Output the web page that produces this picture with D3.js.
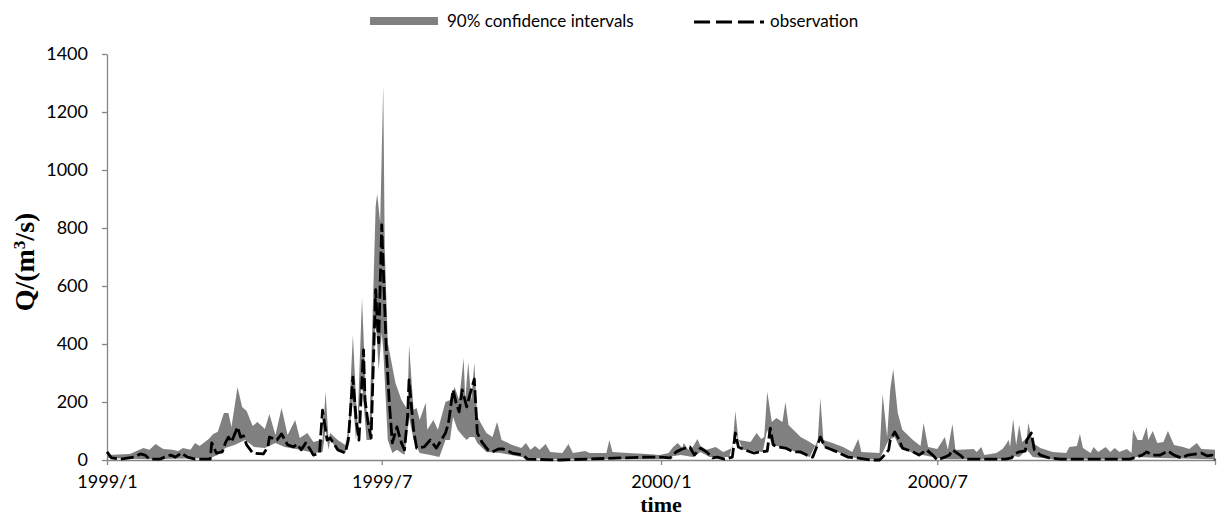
<!DOCTYPE html>
<html><head><meta charset="utf-8">
<script src="https://cdn.jsdelivr.net/npm/d3@7"></script>
<style>body{margin:0;background:#fff} svg{display:block}</style>
</head><body><svg id="chart" width="1219" height="520"></svg>
<script>
// ---- data (day offset from 1999-01-01, discharge m3/s) ----
const startDate = "1999-01-01";
const endDate = "2000-12-31";
const xTickDates = ["1999-01-01","1999-07-01","2000-01-01","2000-07-01","2000-12-31"];
const xTickLabels = ["1999/1","1999/7","2000/1","2000/7",""];
const yTickValues = [0,200,400,600,800,1000,1200,1400];
const legendLabels = ["90% confidence intervals","observation"];

const bandUpper = [[0,17],[15,21],[24,41],[28,35],[32,55],[37,38],[43,35],[47,31],[50,41],[55,35],[58,59],[61,48],[67,72],[70,90],[73,97],[77,162],[80,162],[82,114],[86,252],[89,183],[92,169],[96,117],[99,131],[102,117],[104,107],[107,159],[111,86],[115,179],[119,86],[124,138],[127,76],[132,93],[136,62],[139,66],[142,69],[144,235],[146,69],[147,93],
[152,69],[157,52],[159,104],[162,431],[165,114],[168,559],[171,173],[173,128],[177,873],[178,918],[180,818],[182,1294],[183,725],[185,404],[190,266],[194,207],[198,173],[199,397],[202,173],[204,179],[206,138],[210,197],[211,104],[215,138],[218,104],[223,200],[226,207],[229,252],[232,207],[235,352],[236,207],[238,338],[240,207],[242,335],[244,148],[250,93],[254,79],[257,131],[260,69],[267,52],[273,41],[276,59],[279,35],[282,48],[285,35],[289,55],[292,28],[300,24],[304,55],[307,24],[315,31],[318,24],[329,24],[331,69],[333,28],[343,24],[356,21],[364,17],[370,24],[373,45],[376,59],[379,41],[380,59],[383,35],[386,45],[389,72],[391,48],
[395,35],[401,45],[406,28],[412,41],[414,169],[416,69],[424,62],[428,93],[431,72],[433,79],[435,235],[438,131],[441,145],[445,131],[447,200],[449,121],[457,79],[463,62],[468,45],[470,214],[472,69],[478,59],[485,45],[491,28],[495,72],[497,28],[509,24],[511,228],[514,79],[516,242],[518,314],[521,162],[524,104],[531,69],[536,48],[538,128],[541,45],[547,38],[552,79],[554,35],[557,124],[559,35],[562,35],
[571,38],[573,28],[576,45],[578,17],[586,24],[590,38],[592,52],[594,69],[595,45],[597,141],[599,52],[601,121],[603,62],[606,76],[607,128],[610,59],[615,41],[623,28],[632,24],[634,45],[639,48],[641,90],[643,41],[648,24],[650,45],[653,28],[658,45],[661,28],[664,41],[667,28],[672,38],[675,24],[676,104],[679,69],[682,69],[685,114],[686,69],[689,100],[692,59],[696,62],[699,100],[703,52],[709,45],[713,38],[718,59],[721,38],[730,35]];

const bandLower = [[0,7],[28,3],[68,7],[73,17],[78,41],[84,52],[91,69],[97,45],[104,41],[111,59],[117,45],[127,35],[137,24],[142,28],[144,104],[146,35],[147,69],[152,35],[157,24],[159,69],[162,207],[164,69],[168,266],[171,69],[174,69],[177,493],[179,310],[181,438],[182,380],[185,69],[188,24],[191,35],[196,17],[199,148],[202,69],[206,24],[213,17],[219,10],[223,69],[226,69],[228,148],[231,104],[235,79],[237,69],[239,79],[242,79],[244,59],[250,28],[259,24],[277,7],[298,3],[364,3],[369,10],[378,17],[386,10],[391,28],[397,10],[410,10],[414,93],[419,35],[432,28],[435,104],[438,52],[448,41],[455,24],[463,10],[469,76],[473,41],[483,24],[489,10],[501,3],[509,3],[515,69],[519,79],[522,45],[531,24],[544,10],[553,3],[562,3],[595,3],[597,14],[601,10],[606,35],[610,10],[623,3],[676,3],[678,10],[694,7],[730,3]];

const observation = [[0,28],[3,7],[9,3],[18,10],[22,21],[25,17],[28,3],[35,3],[38,10],[42,17],[45,10],[49,24],[53,10],[58,3],[68,3],[69,59],[72,24],[76,28],[78,59],[80,79],[82,62],[86,114],[88,79],[90,83],[92,52],[96,24],[103,21],[106,45],[107,79],[112,69],[115,90],[119,52],[123,45],[125,55],[128,35],[131,59],[134,35],[136,17],[140,24],[142,172],[145,69],[147,76],[152,35],[157,24],[159,69],[162,286],[164,148],[166,69],[169,380],[170,207],[172,128],[174,76],[177,587],[178,483],[179,404],[181,811],[182,666],[184,380],[186,197],[188,59],[191,114],[194,59],[196,35],[198,148],[199,276],[202,104],[204,41],[209,45],[213,69],[217,41],[223,93],[225,128],[228,242],[230,197],[232,166],[234,242],[237,183],[239,224],[242,279],[243,183],[244,93],[247,62],[251,35],[254,28],[258,38],[261,38],[267,24],[274,17],[277,3],[298,0],[338,7],[356,10],[364,10],[371,7],[375,28],[379,38],[384,45],[387,17],[391,41],[395,28],[399,7],[402,10],[407,3],[412,10],[414,93],[416,45],[420,35],[426,24],[431,28],[435,31],[437,110],[439,52],[442,45],[447,41],[452,28],[457,28],[461,17],[465,10],[470,79],[473,45],[481,28],[488,10],[494,7],[503,0],[509,0],[511,10],[515,35],[516,69],[519,97],[522,69],[524,41],[531,28],[535,17],[540,35],[544,17],[547,0],[552,10],[555,17],[557,35],[562,17],[565,3],[592,3],[596,7],[598,21],[601,28],[605,31],[606,69],[609,93],[611,35],[615,17],[621,7],[628,3],[654,3],[674,3],[678,10],[682,17],[685,28],[689,17],[694,17],[699,31],[703,17],[708,7],[712,17],[718,21],[721,24],[725,14],[728,17],[730,0]];

// ---- drawing ----
const svg = d3.select("#chart");
const parse = d3.timeParse("%Y-%m-%d");
const t0 = parse(startDate);
const toDate = d => d3.timeDay.offset(t0, d);

const x = d3.scaleTime().domain([t0, parse(endDate)]).range([107, 1215]);
const y = d3.scaleLinear().domain([0, 1400]).range([460, 54]);

const axisColor = "#868686";
const labelFont = "Lato, 'Liberation Sans', sans-serif";
const serif = "'Liberation Serif', 'Times New Roman', serif";

// Y axis
const yAxis = svg.append("g").attr("transform", "translate(107,0)")
  .call(d3.axisLeft(y).tickValues(yTickValues).tickFormat(d3.format("d")).tickSize(5).tickSizeOuter(0).tickPadding(14));
yAxis.select(".domain").attr("stroke", axisColor).attr("stroke-width", 1.3);
yAxis.selectAll(".tick line").attr("stroke", axisColor).attr("stroke-width", 1.3);
yAxis.selectAll(".tick text").attr("fill", "#000").style("font-family", labelFont).style("font-size", "18px");

// band polygon
const bandPts = bandUpper.concat(bandLower.slice().reverse());
const poly = d3.line().x(d => x(toDate(d[0]))).y(d => y(d[1]));
svg.append("path").attr("d", poly(bandPts) + "Z").attr("fill", "#808080").attr("stroke", "none");

// X axis
const xAxis = svg.append("g").attr("transform", "translate(0,460)")
  .call(d3.axisBottom(x).tickValues(xTickDates.map(parse)).tickSize(5).tickSizeOuter(0).tickPadding(10)
    .tickFormat((d, i) => xTickLabels[i]));
xAxis.select(".domain").attr("stroke", axisColor).attr("stroke-width", 1.3);
xAxis.selectAll(".tick line").attr("stroke", axisColor).attr("stroke-width", 1.3);
xAxis.selectAll(".tick text").attr("fill", "#000").style("font-family", labelFont).style("font-size", "18px");

// observation line
const obsLine = d3.line().x(d => x(toDate(d[0]))).y(d => y(d[1]));
svg.append("path").attr("d", obsLine(observation)).attr("fill", "none")
  .attr("stroke", "#000").attr("stroke-width", 2.8).attr("stroke-dasharray", "13,4")
  .attr("stroke-linejoin", "round");

// axis titles
svg.append("text").attr("transform", "translate(34,262) rotate(-90)").attr("text-anchor", "middle")
  .style("font-family", serif).style("font-weight", "bold").style("font-size", "28px")
  .call(t => { t.append("tspan").text("Q/(m");
               t.append("tspan").attr("baseline-shift", "super").style("font-size", "17px").text("3");
               t.append("tspan").text("/s)"); });
svg.append("text").attr("x", 661).attr("y", 512).attr("text-anchor", "middle")
  .style("font-family", serif).style("font-weight", "bold").style("font-size", "22px")
  .text("time");

// legend
const lg = svg.append("g");
lg.append("rect").attr("x", 370).attr("y", 17).attr("width", 68).attr("height", 8).attr("fill", "#808080");
lg.append("text").attr("x", 447).attr("y", 27).style("font-family", labelFont).style("font-size", "17px").text(legendLabels[0]);
lg.append("line").attr("x1", 694).attr("x2", 764).attr("y1", 22).attr("y2", 22)
  .attr("stroke", "#000").attr("stroke-width", 2.8).attr("stroke-dasharray", "16,6");
lg.append("text").attr("x", 770).attr("y", 27).style("font-family", labelFont).style("font-size", "17px").text(legendLabels[1]);
</script></body></html>
